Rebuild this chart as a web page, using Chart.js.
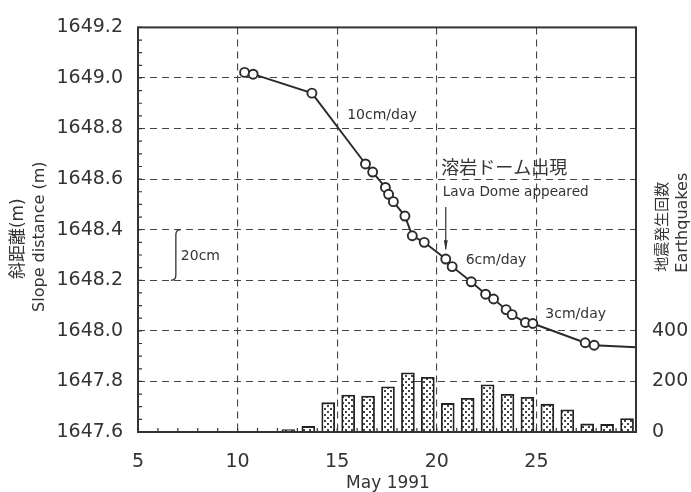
<!DOCTYPE html>
<html>
<head>
<meta charset="utf-8">
<script src="https://cdn.jsdelivr.net/npm/chart.js@4/dist/chart.umd.min.js"></script>
<style>
  body { margin: 0; background: #fff; }
  #wrap { width: 691px; height: 492px; }
</style>
</head>
<body>
<div id="wrap"><canvas id="slopeChart"></canvas></div>
<script>
// slope distance measurements (day of May 1991, metres)
const slopeDays = [10.35, 10.78, 13.73, 16.42, 16.78, 17.42, 17.58, 17.82, 18.4, 18.77, 19.37, 20.45,
  20.77, 21.73, 22.45, 22.85, 23.48, 23.78, 24.45, 24.82, 27.45, 27.9, 30];
const slopeValues = [1649.022, 1649.015, 1648.94, 1648.66, 1648.628, 1648.567, 1648.54, 1648.511, 1648.454,
  1648.376, 1648.35, 1648.284, 1648.254, 1648.194, 1648.145, 1648.126, 1648.084, 1648.064, 1648.033,
  1648.029, 1647.953, 1647.943, 1647.935];

// daily earthquake counts
const quakeDays = [12, 13, 14, 15, 16, 17, 18, 19, 20, 21, 22, 23, 24, 25, 26, 27, 28, 29];
const quakeCounts = [10, 22, 116, 146, 142, 179, 234, 216, 113, 133, 187, 149, 137, 110, 88, 32, 30, 53];

const xTickLabels = [5, 10, 15, 20, 25];
const quakeTickLabels = [0, 200, 400];

const FONT = "'DejaVu Sans', 'Noto Sans CJK JP', sans-serif";
const INK = "#333";

const ctx = document.getElementById("slopeChart").getContext("2d");

// stipple fill for the bars
const dotCanvas = document.createElement("canvas");
dotCanvas.width = 6;
dotCanvas.height = 6;
const dc = dotCanvas.getContext("2d");
dc.fillStyle = "#fff";
dc.fillRect(0, 0, 6, 6);
dc.fillStyle = "#444";
dc.fillRect(0, 0, 2, 2);
dc.fillRect(3, 3, 2, 2);
const stipple = ctx.createPattern(dotCanvas, "repeat");

const drawText = (c, text, x, y, size, rot, align) => {
  c.save();
  c.translate(x, y);
  if (rot) c.rotate(rot);
  c.font = `${size}px ${FONT}`;
  c.fillStyle = INK;
  c.textAlign = align || "center";
  c.textBaseline = "middle";
  c.fillText(text, 0, 0);
  c.restore();
};

const extras = {
  id: "extras",
  afterDraw(chart) {
    const c = chart.ctx;
    const { left, right, top, bottom } = chart.chartArea;
    const xs = chart.scales.x;
    const ys = chart.scales.y;

    c.save();
    c.strokeStyle = INK;
    c.lineWidth = 1.2;
    // minor ticks, pointing inward
    c.beginPath();
    for (let d = 6; d < 30; d++) {
      const px = xs.getPixelForValue(d);
      c.moveTo(px, bottom);
      c.lineTo(px, bottom - 4);
    }
    for (let v = 1647.65; v < 1649.2; v += 0.05) {
      const py = ys.getPixelForValue(v);
      c.moveTo(left, py);
      c.lineTo(left + 4, py);
    }
    c.stroke();

    // frame
    c.lineWidth = 2;
    c.strokeRect(left, top, right - left, bottom - top);

    // 20cm bracket
    const bx = xs.getPixelForValue(6.9);
    const bTop = ys.getPixelForValue(1648.4);
    const bBot = ys.getPixelForValue(1648.2);
    c.lineWidth = 1.3;
    c.beginPath();
    c.moveTo(bx + 5, bTop);
    c.quadraticCurveTo(bx, bTop, bx, bTop + 5);
    c.lineTo(bx, bBot - 5);
    c.quadraticCurveTo(bx, bBot, bx - 5, bBot);
    c.stroke();

    // lava dome arrow
    const ax = xs.getPixelForValue(20.45);
    const aTop = ys.getPixelForValue(1648.49);
    const aBot = ys.getPixelForValue(1648.323);
    c.lineWidth = 1.2;
    c.beginPath();
    c.moveTo(ax, aTop);
    c.lineTo(ax, aBot);
    c.stroke();
    c.fillStyle = INK;
    c.beginPath();
    c.moveTo(ax, aBot + 1);
    c.lineTo(ax - 2, aBot - 9);
    c.lineTo(ax + 2, aBot - 9);
    c.closePath();
    c.fill();
    c.restore();

    // notes inside the plot
    const at = (d, v) => [xs.getPixelForValue(d), ys.getPixelForValue(v)];
    drawText(c, "20cm", ...at(7.15, 1648.295), 14, 0, "left");
    drawText(c, "10cm/day", ...at(15.5, 1648.852), 14, 0, "left");
    drawText(c, "6cm/day", ...at(21.45, 1648.278), 14, 0, "left");
    drawText(c, "3cm/day", ...at(25.45, 1648.065), 14, 0, "left");
    drawText(c, "溶岩ドーム出現", ...at(20.22, 1648.64), 18, 0, "left");
    drawText(c, "Lava Dome appeared", ...at(20.3, 1648.548), 13.6, 0, "left");

    // axis titles
    const midY = (top + bottom) / 2;
    drawText(c, "斜距離(m)", 19, midY + 9, 17, -Math.PI / 2);
    drawText(c, "Slope distance (m)", 40, midY + 7, 16, -Math.PI / 2);
    drawText(c, "地震発生回数", 663, midY - 3, 15, -Math.PI / 2);
    drawText(c, "Earthquakes", 683, midY - 7, 16, -Math.PI / 2);
    drawText(c, "May 1991", (left + right) / 2 + 1, 484, 17, 0);
  },
};

const config = {
  data: {
    datasets: [
      {
        type: "line",
        label: "Slope distance",
        data: slopeDays.map((d, i) => ({ x: d, y: slopeValues[i] })),
        xAxisID: "x",
        yAxisID: "y",
        borderColor: "#2a2a2a",
        borderWidth: 1.9,
        pointRadius: (c) => (c.dataIndex === slopeDays.length - 1 ? 0 : 4.5),
        pointBackgroundColor: "#fff",
        pointBorderColor: "#2a2a2a",
        pointBorderWidth: 1.9,
        tension: 0,
        order: 0,
      },
      {
        type: "bar",
        label: "Earthquakes",
        data: quakeDays.map((d, i) => ({ x: d + 0.55, y: quakeCounts[i] })),
        xAxisID: "x",
        yAxisID: "y1",
        backgroundColor: stipple,
        borderColor: "#222",
        borderWidth: 1.8,
        barThickness: 13,
        order: 1,
      },
    ],
  },
  options: {
    responsive: true,
    maintainAspectRatio: false,
    animation: false,
    layout: { padding: { top: 18, left: 0, right: 0, bottom: 0 } },
    plugins: {
      legend: { display: false },
      tooltip: { enabled: false },
    },
    scales: {
      x: {
        type: "linear",
        position: "bottom",
        min: 5,
        max: 30,
        offset: false,
        afterFit: (s) => { s.height = 60; },
        ticks: {
          stepSize: 5,
          padding: 19,
          color: INK,
          font: { family: FONT, size: 19 },
          maxRotation: 0,
          callback: (v) => (xTickLabels.includes(v) ? String(v) : ""),
        },
        grid: { color: "#444", lineWidth: 1.1, drawTicks: false, offset: false },
        border: { display: false, dash: [7, 5] },
      },
      y: {
        position: "left",
        min: 1647.6,
        max: 1649.2,
        afterFit: (s) => { s.width = 138; },
        ticks: {
          stepSize: 0.2,
          padding: 15,
          color: INK,
          font: { family: FONT, size: 19 },
          callback: (v) => Number(v).toFixed(1),
        },
        grid: { color: "#444", lineWidth: 1.1, drawTicks: false },
        border: { display: false, dash: [7, 5] },
      },
      y1: {
        position: "right",
        min: 0,
        max: 1600,
        afterFit: (s) => { s.width = 55; },
        ticks: {
          stepSize: 200,
          padding: 16,
          color: INK,
          font: { family: FONT, size: 19 },
          callback: (v) => (quakeTickLabels.includes(v) ? String(v) : ""),
        },
        grid: { display: false, drawTicks: false },
        border: { display: false },
      },
    },
  },
  plugins: [extras],
};

new Chart(ctx, config);
</script>
</body>
</html>
